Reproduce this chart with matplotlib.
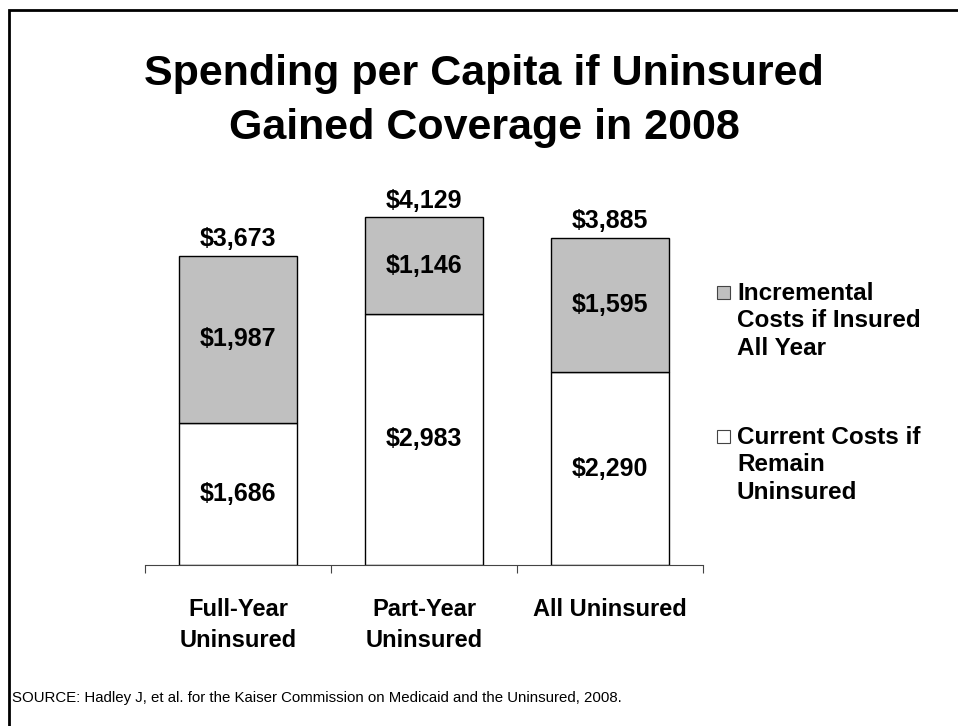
import matplotlib.pyplot as plt
from matplotlib.patches import Rectangle

plt.rcParams['font.family'] = ['Liberation Sans', 'DejaVu Sans']

# spending per capita, by group
groups = ['Full-Year\nUninsured', 'Part-Year\nUninsured', 'All Uninsured']
current_costs = [1686, 2983, 2290]
incremental_costs = [1987, 1146, 1595]
totals = [3673, 4129, 3885]

legend_labels = ['Incremental\nCosts if Insured\nAll Year',
                 'Current Costs if\nRemain\nUninsured']
gray = '#c0c0c0'

fig = plt.figure(figsize=(9.58, 7.26), dpi=100)
ax = fig.add_axes([145 / 958, 161 / 726, 558 / 958, 379 / 726])

x = range(len(groups))
bottom = ax.bar(x, current_costs, width=0.63, color='white', edgecolor='black', linewidth=1)
top = ax.bar(x, incremental_costs, bottom=current_costs, width=0.63, color=gray,
             edgecolor='black', linewidth=1)

def money(v):
    return '${:,}'.format(v)

for i in x:
    ax.text(i, current_costs[i] / 2, money(current_costs[i]), ha='center', va='center',
            fontsize=18, fontweight='bold')
    ax.text(i, current_costs[i] + incremental_costs[i] / 2, money(incremental_costs[i]),
            ha='center', va='center', fontsize=18, fontweight='bold')
    ax.annotate(money(totals[i]), (i, totals[i]), xytext=(0, 12), textcoords='offset points',
                ha='center', va='center', fontsize=18, fontweight='bold')

ax.set_xlim(-0.5, 2.5)
ax.set_ylim(0, 4500)
ax.set_yticks([])
for s in ['top', 'right', 'left']:
    ax.spines[s].set_visible(False)
ax.spines['bottom'].set_color('#444444')

# tick marks between groups, labels under the bars
ax.set_xticks([-0.5, 0.5, 1.5, 2.5])
ax.set_xticklabels([])
ax.tick_params(axis='x', which='major', direction='out', length=6, color='#444444')
ax.set_xticks(list(x), minor=True)
ax.set_xticklabels(groups, minor=True, fontsize=17, fontweight='bold', linespacing=1.4)
ax.tick_params(axis='x', which='minor', length=0, pad=24)

fig.text(484 / 958, 1 - 101 / 726, 'Spending per Capita if Uninsured\nGained Coverage in 2008',
         ha='center', va='center', fontsize=31, fontweight='bold', linespacing=1.42)

# legend drawn by hand so the swatch sits beside the first line
for label, color, ytop in zip(legend_labels, [gray, 'white'], [282, 426]):
    fig.text(737 / 958, 1 - ytop / 726, label, ha='left', va='top', fontsize=17.5,
             fontweight='bold', linespacing=1.24)
    fig.add_artist(Rectangle((717 / 958, 1 - (ytop + 17) / 726), 13 / 958, 13 / 726,
                             transform=fig.transFigure, facecolor=color,
                             edgecolor='#444444', linewidth=0.8))

fig.text(12 / 958, 1 - 698 / 726,
         'SOURCE: Hadley J, et al. for the Kaiser Commission on Medicaid and the Uninsured, 2008.',
         ha='left', va='center', fontsize=10.8)

# slide frame
fig.add_artist(Rectangle((9 / 958, -0.1), 1.2, 1 - 10 / 726 + 0.1, transform=fig.transFigure,
                         fill=False, edgecolor='black', linewidth=2))

fig.savefig('out.png', dpi=100)
